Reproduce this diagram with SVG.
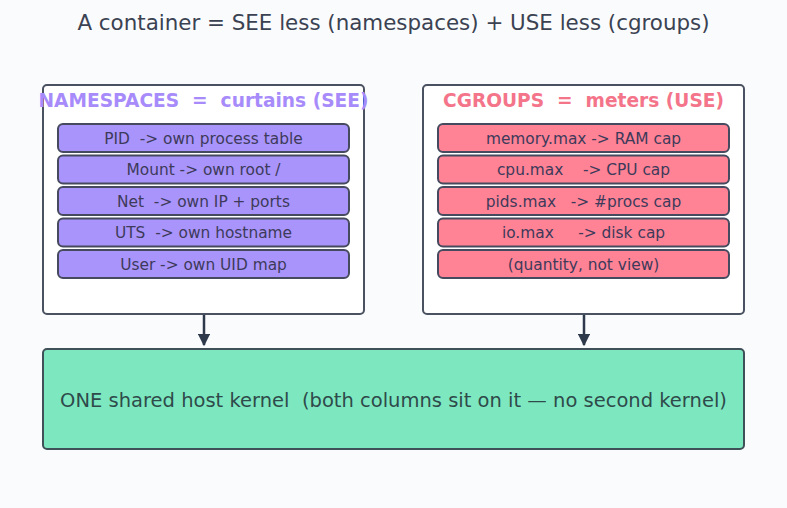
<svg xmlns="http://www.w3.org/2000/svg" width="787" height="508" viewBox="0 0 787 508">
<style>
text{font-family:"DejaVu Sans","Liberation Sans",sans-serif;white-space:pre}
.title{font-size:21.4px;fill:#3b4252}
.box{fill:#ffffff;stroke:#4a5160;stroke-width:2}
.hdr{font-size:18.6px;font-weight:bold}
.row{stroke:#464a5e;stroke-width:2}
.np{fill:#a994fb}
.cg{fill:#ff8295}
.rt{font-size:15.4px;fill:#3d3a5a}
.edge{stroke:#2e3a4c;stroke-width:2.5;fill:none}
</style>
<defs>
<marker id="ah" viewBox="0 0 10 10" refX="9" refY="5" markerWidth="5" markerHeight="5" orient="auto" markerUnits="strokeWidth">
<path d="M0,0 L10,5 L0,10 z" fill="#2e3a4c"/>
</marker>
</defs>
<rect width="787" height="508" fill="#fafbfd"/>
<text class="title" x="393.5" y="30" text-anchor="middle">A container = SEE less (namespaces) + USE less (cgroups)</text>

<g id="namespaces">
<rect class="box" x="43" y="85" width="321" height="229" rx="4"/>
<text class="hdr" x="203.5" y="106.5" text-anchor="middle" fill="#a78bfa">NAMESPACES  =  curtains (SEE)</text>
<rect class="row np" x="58" y="124" width="291" height="28" rx="5"/>
<text class="rt" x="203.5" y="143.5" text-anchor="middle">PID  -&gt; own process table</text>
<rect class="row np" x="58" y="155.5" width="291" height="28" rx="5"/>
<text class="rt" x="203.5" y="175" text-anchor="middle">Mount -&gt; own root /</text>
<rect class="row np" x="58" y="187" width="291" height="28" rx="5"/>
<text class="rt" x="203.5" y="206.5" text-anchor="middle">Net  -&gt; own IP + ports</text>
<rect class="row np" x="58" y="218.5" width="291" height="28" rx="5"/>
<text class="rt" x="203.5" y="238" text-anchor="middle">UTS  -&gt; own hostname</text>
<rect class="row np" x="58" y="250" width="291" height="28" rx="5"/>
<text class="rt" x="203.5" y="269.5" text-anchor="middle">User -&gt; own UID map</text>
</g>

<g id="cgroups">
<rect class="box" x="423" y="85" width="321" height="229" rx="4"/>
<text class="hdr" x="583.5" y="106.5" text-anchor="middle" fill="#f4748a">CGROUPS  =  meters (USE)</text>
<rect class="row cg" x="438" y="124" width="291" height="28" rx="5"/>
<text class="rt" x="583.5" y="143.5" text-anchor="middle">memory.max -&gt; RAM cap</text>
<rect class="row cg" x="438" y="155.5" width="291" height="28" rx="5"/>
<text class="rt" x="583.5" y="175" text-anchor="middle">cpu.max    -&gt; CPU cap</text>
<rect class="row cg" x="438" y="187" width="291" height="28" rx="5"/>
<text class="rt" x="583.5" y="206.5" text-anchor="middle">pids.max   -&gt; #procs cap</text>
<rect class="row cg" x="438" y="218.5" width="291" height="28" rx="5"/>
<text class="rt" x="583.5" y="238" text-anchor="middle">io.max     -&gt; disk cap</text>
<rect class="row cg" x="438" y="250" width="291" height="28" rx="5"/>
<text class="rt" x="583.5" y="269.5" text-anchor="middle">(quantity, not view)</text>
</g>

<g id="kernel">
<rect x="43" y="349" width="701" height="100" rx="4" fill="#7de8c0" stroke="#3f5058" stroke-width="2"/>
<text x="393.5" y="406.5" text-anchor="middle" font-size="19.5" fill="#2f4a4a">ONE shared host kernel  (both columns sit on it — no second kernel)</text>
</g>

<g id="connectors">
<line class="edge" x1="204" y1="315" x2="204" y2="345" marker-end="url(#ah)"/>
<line class="edge" x1="584" y1="315" x2="584" y2="345" marker-end="url(#ah)"/>
</g>
</svg>
